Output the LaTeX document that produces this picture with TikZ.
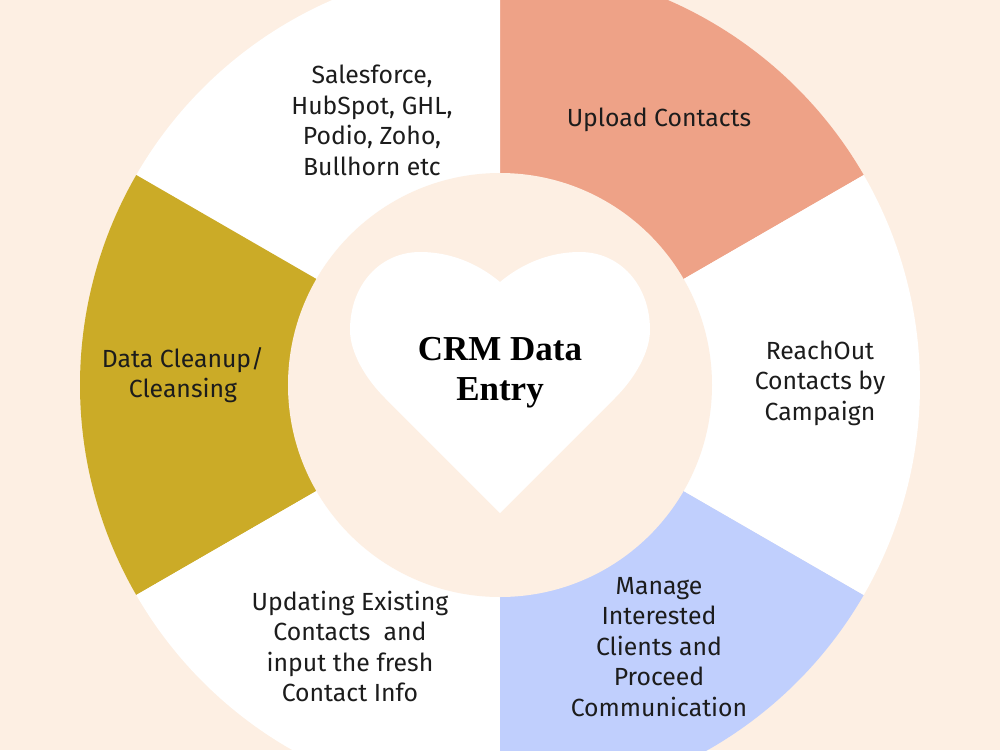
\documentclass[tikz,border=0pt]{standalone}
\usepackage{fontspec}
\setmainfont{Fira Sans}
\newfontfamily\titlefont{Liberation Serif}
\definecolor{bgpeach}{HTML}{FDEFE3}
\definecolor{salmon}{HTML}{EEA287}
\definecolor{skyblue}{HTML}{C0CFFD}
\definecolor{mustard}{HTML}{CBAB27}
\definecolor{inktext}{HTML}{1C1C1C}
\begin{document}
\begin{tikzpicture}[x=1pt,y=1pt,
  seglabel/.style={align=center,text=inktext,inner sep=0pt,font=\fontsize{24.8}{30.5}\selectfont},
  titlelabel/.style={align=center,text=black,inner sep=0pt,font=\titlefont\bfseries\fontsize{35}{40}\selectfont}]
\useasboundingbox (-500,-365) rectangle (500,385);
\clip (-500,-365) rectangle (500,385);
\fill[bgpeach] (-500,-365) rectangle (500,385);
% wedges
\fill[salmon] (0,0) -- (30:420) arc[start angle=30,end angle=90,radius=420] -- cycle;
\fill[white] (0,0) -- (90:420) arc[start angle=90,end angle=150,radius=420] -- cycle;
\fill[mustard] (0,0) -- (150:420) arc[start angle=150,end angle=210,radius=420] -- cycle;
\fill[white] (0,0) -- (210:420) arc[start angle=210,end angle=270,radius=420] -- cycle;
\fill[skyblue] (0,0) -- (270:420) arc[start angle=270,end angle=330,radius=420] -- cycle;
\fill[white] (0,0) -- (-30:420) arc[start angle=-30,end angle=30,radius=420] -- cycle;
% inner disc
\fill[bgpeach] (0,0) circle[radius=212];
% heart
\fill[white] (0,-128) -- (-115,-13)
  .. controls (-135,7) and (-150,33) .. (-150,55)
  .. controls (-150,100) and (-120,133) .. (-80,133)
  .. controls (-45,133) and (-18,118) .. (0,103)
  .. controls (18,118) and (45,133) .. (80,133)
  .. controls (120,133) and (150,100) .. (150,55)
  .. controls (150,33) and (135,7) .. (115,-13)
  -- cycle;
% labels
\node[titlelabel] (title) at (0,12) {CRM Data\\Entry};
\node[seglabel] (crms) at (-128,264.5) {Salesforce,\\HubSpot, GHL,\\Podio, Zoho,\\Bullhorn etc};
\node[seglabel] (upload) at (159,265) {Upload Contacts};
\node[seglabel] (reach) at (320,2) {ReachOut\\Contacts by\\Campaign};
\node[seglabel] (manage) at (159,-262) {Manage\\Interested\\Clients and\\Proceed\\Communication};
\node[seglabel] (update) at (-150,-261.5) {Updating Existing\\Contacts~ and\\input the fresh\\Contact Info};
\node[seglabel] (clean) at (-317,10) {Data Cleanup/\\Cleansing};
\end{tikzpicture}
\end{document}
